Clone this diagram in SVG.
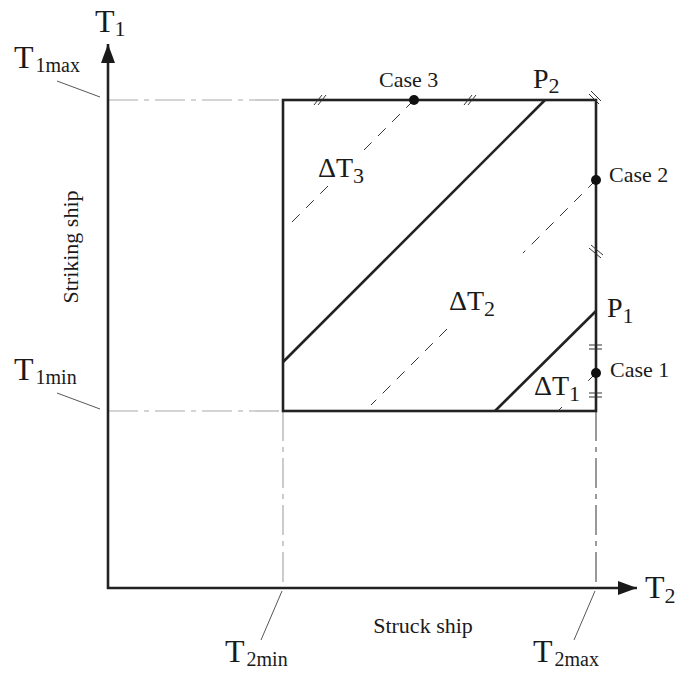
<svg xmlns="http://www.w3.org/2000/svg" width="678" height="673" viewBox="0 0 678 673">
<style>
text{font-family:"Liberation Serif","Times New Roman",serif;fill:#1a1a1a}
.tl{font-size:32px}
.tm{font-size:28px}
.sub{font-size:20px}
.sub2{font-size:22px}
.cs{font-size:22px}
.lbl{font-size:22px}
.ax{stroke:#222;stroke-width:2.6;fill:none}
.box{stroke:#222;stroke-width:2.6;fill:none}
.diag{stroke:#222;stroke-width:2.6;fill:none}
.dash{stroke:#333;stroke-width:1;fill:none;stroke-dasharray:11 9}
.dd{stroke:#aaa;stroke-width:1.2;fill:none;stroke-dasharray:30 6 5 6}
.ddk{stroke:#333;stroke-width:1;fill:none;stroke-dasharray:30 6 5 6}
.lead{stroke:#444;stroke-width:0.9;fill:none}
.tick{stroke:#333;stroke-width:1;fill:none}
.dot{fill:#111}
</style>
<defs>
<marker id="ah" markerWidth="20" markerHeight="14" refX="19" refY="7" orient="auto" markerUnits="userSpaceOnUse">
<path d="M0,0 L19,7 L0,14 Z" fill="#1a1a1a"/>
</marker>
</defs>

<g id="guides">
<line class="dd" x1="108" y1="100" x2="283" y2="100"/>
<line class="dd" x1="108" y1="411" x2="283" y2="411"/>
<line class="dd" x1="283" y1="411" x2="283" y2="588"/>
<line class="ddk" x1="596" y1="411" x2="596" y2="588"/>
<line class="lead" x1="57" y1="81" x2="100" y2="97"/>
<line class="lead" x1="57" y1="393" x2="100" y2="409"/>
<line class="lead" x1="282" y1="591" x2="261" y2="640"/>
<line class="lead" x1="595" y1="591" x2="574" y2="640"/>
</g>

<g id="axes">
<line class="ax" x1="108" y1="589" x2="108" y2="44" marker-end="url(#ah)"/>
<line class="ax" x1="107" y1="588" x2="637" y2="588" marker-end="url(#ah)"/>
</g>

<g id="region">
<rect class="box" x="283" y="100" width="313" height="311"/>
</g>

<g id="connectors">
<line class="diag" x1="283" y1="362" x2="545" y2="100"/>
<line class="diag" x1="495" y1="411" x2="596" y2="311"/>
<line class="dash" x1="414" y1="100" x2="364" y2="150"/>
<line class="dash" x1="328" y1="186" x2="289" y2="225"/>
<line class="dash" x1="596" y1="180" x2="523" y2="253"/>
<line class="dash" x1="447" y1="329" x2="371" y2="405"/>
<line class="dash" x1="596" y1="373" x2="587" y2="382"/>
<line class="dash" x1="562" y1="407" x2="558" y2="411"/>
</g>

<g id="ticks">
<path class="tick" d="M314,105 L322,95 M318,105 L326,95"/>
<path class="tick" d="M464,105 L472,95 M468,105 L476,95"/>
<path class="tick" d="M589,94 L599,104 M591,91 L601,101"/>
<path class="tick" d="M589,248 L601,258 M591,245 L603,255"/>
<path class="tick" d="M589,345 L602,345 M589,349 L602,349"/>
<path class="tick" d="M589,393 L602,393 M589,397 L602,397"/>
</g>

<g id="case3"><circle class="dot" cx="414" cy="100" r="5"/><text class="cs" x="379" y="87">Case 3</text></g>
<g id="case2"><circle class="dot" cx="596" cy="180" r="5"/><text class="cs" x="609" y="182">Case 2</text></g>
<g id="case1"><circle class="dot" cx="596" cy="373" r="5"/><text class="cs" x="610" y="377">Case 1</text></g>

<g id="p2"><text class="tm" x="533" y="88">P<tspan class="sub2" dy="5">2</tspan></text></g>
<g id="p1"><text class="tm" x="607" y="317">P<tspan class="sub2" dy="6">1</tspan></text></g>
<g id="dt3"><text class="tm" x="318" y="177">ΔT<tspan class="sub2" dy="6">3</tspan></text></g>
<g id="dt2"><text class="tm" x="449" y="310">ΔT<tspan class="sub2" dy="6">2</tspan></text></g>
<g id="dt1"><text class="tm" x="534" y="395">ΔT<tspan class="sub2" dy="6">1</tspan></text></g>

<g id="labels">
<text class="tl" x="95" y="32">T<tspan class="sub2" dy="4">1</tspan></text>
<text class="tl" x="645" y="598">T<tspan class="sub2" dy="5">2</tspan></text>
<text class="tl" x="14" y="68">T<tspan class="sub" dy="4" dx="2">1max</tspan></text>
<text class="tl" x="14" y="380">T<tspan class="sub" dy="4" dx="2">1min</tspan></text>
<text class="tl" x="225" y="662">T<tspan class="sub" dy="4" dx="2">2min</tspan></text>
<text class="tl" x="533" y="662">T<tspan class="sub" dy="4" dx="2">2max</tspan></text>
<text class="lbl" x="423" y="633" text-anchor="middle">Struck ship</text>
<text class="lbl" transform="translate(78,247) rotate(-90)" text-anchor="middle">Striking ship</text>
</g>
</svg>
